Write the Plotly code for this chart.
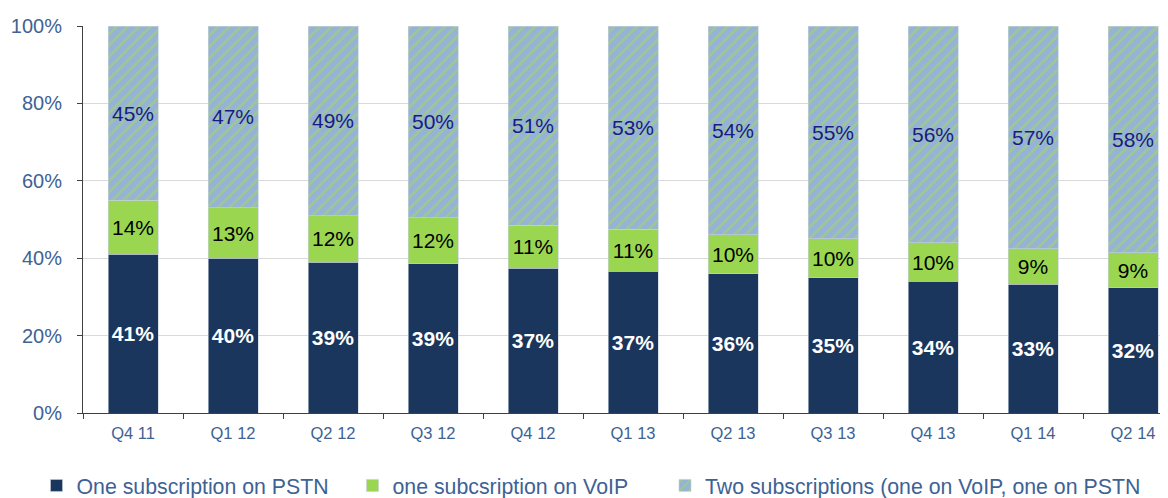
import plotly.graph_objects as go

categories = ["Q4 11", "Q1 12", "Q2 12", "Q3 12", "Q4 12", "Q1 13",
              "Q2 13", "Q3 13", "Q4 13", "Q1 14", "Q2 14"]
pstn = [41, 40, 39, 39, 37, 37, 36, 35, 34, 33, 32]
voip = [14, 13, 12, 12, 11, 11, 10, 10, 10, 9, 9]
two_subs = [45, 47, 49, 50, 51, 53, 54, 55, 56, 57, 58]
series_names = ["One subscription on PSTN", "one subcsription on VoIP",
                "Two subscriptions (one on VoIP, one on PSTN"]
y_ticks = [0, 20, 40, 60, 80, 100]
y_tick_labels = ["0%", "20%", "40%", "60%", "80%", "100%"]

FONT = "Liberation Sans, Arial, sans-serif"
AXIS_BLUE = "rgb(62,98,148)"

fig = go.Figure()

common = dict(x=categories, width=0.5, textposition="inside",
              insidetextanchor="middle", textangle=0, constraintext="none")

fig.add_trace(go.Bar(
    y=pstn, name=series_names[0], text=[f"{v}%" for v in pstn],
    marker=dict(color="#1a365d", line=dict(width=0.6, color="#c8d0da")),
    insidetextfont=dict(family=FONT, size=21, color="white", weight="bold"),
    legend="legend", legendwidth=271, **common))
fig.add_trace(go.Bar(
    y=voip, name=series_names[1], text=[f"{v}%" for v in voip],
    marker=dict(color="#9bd651", line=dict(width=0.6, color="#c8d0da")),
    insidetextfont=dict(family=FONT, size=21, color="black"),
    legend="legend", legendwidth=261, **common))
fig.add_trace(go.Bar(
    y=two_subs, name=series_names[2], text=[f"{v}%" for v in two_subs],
    marker=dict(color="#95b3d7",
                line=dict(width=0.6, color="#c8d0da"),
                pattern=dict(shape="/", fgcolor="#aadb4c", size=8, solidity=0.32)),
    insidetextfont=dict(family=FONT, size=21, color="#1a1a85"),
    legend="legend2", **common))

legend_common = dict(orientation="h", xref="container", yref="container",
                     y=0.041, xanchor="left", yanchor="middle",
                     traceorder="normal",
                     font=dict(family=FONT, size=21.3, color=AXIS_BLUE),
                     bgcolor="rgba(0,0,0,0)", itemwidth=30)

fig.update_layout(
    width=1168, height=498,
    margin=dict(l=75, r=0, t=18, b=93, autoexpand=False),
    paper_bgcolor="white", plot_bgcolor="white",
    barmode="stack", barnorm="percent",
    font=dict(family=FONT),
    legend=dict(x=0.0244, **legend_common),
    legend2=dict(x=0.5625, **legend_common),
    xaxis=dict(range=[-0.5, 10.43], showgrid=False, showline=True,
               linecolor="#404040", linewidth=1, ticks="outside",
               tickson="boundaries", ticklen=5, tickcolor="#404040",
               ticklabelstandoff=5,
               tickfont=dict(family=FONT, size=16.5, color=AXIS_BLUE)),
    yaxis=dict(range=[0, 100], tickvals=y_ticks, ticktext=y_tick_labels,
               showgrid=True, gridcolor="#d9d9d9", gridwidth=1,
               showline=True, linecolor="#404040", linewidth=1,
               ticks="outside", ticklen=5, tickcolor="#404040",
               ticklabelstandoff=11,
               tickfont=dict(family=FONT, size=20, color=AXIS_BLUE),
               zeroline=False),
)

fig.write_html("out.html")
